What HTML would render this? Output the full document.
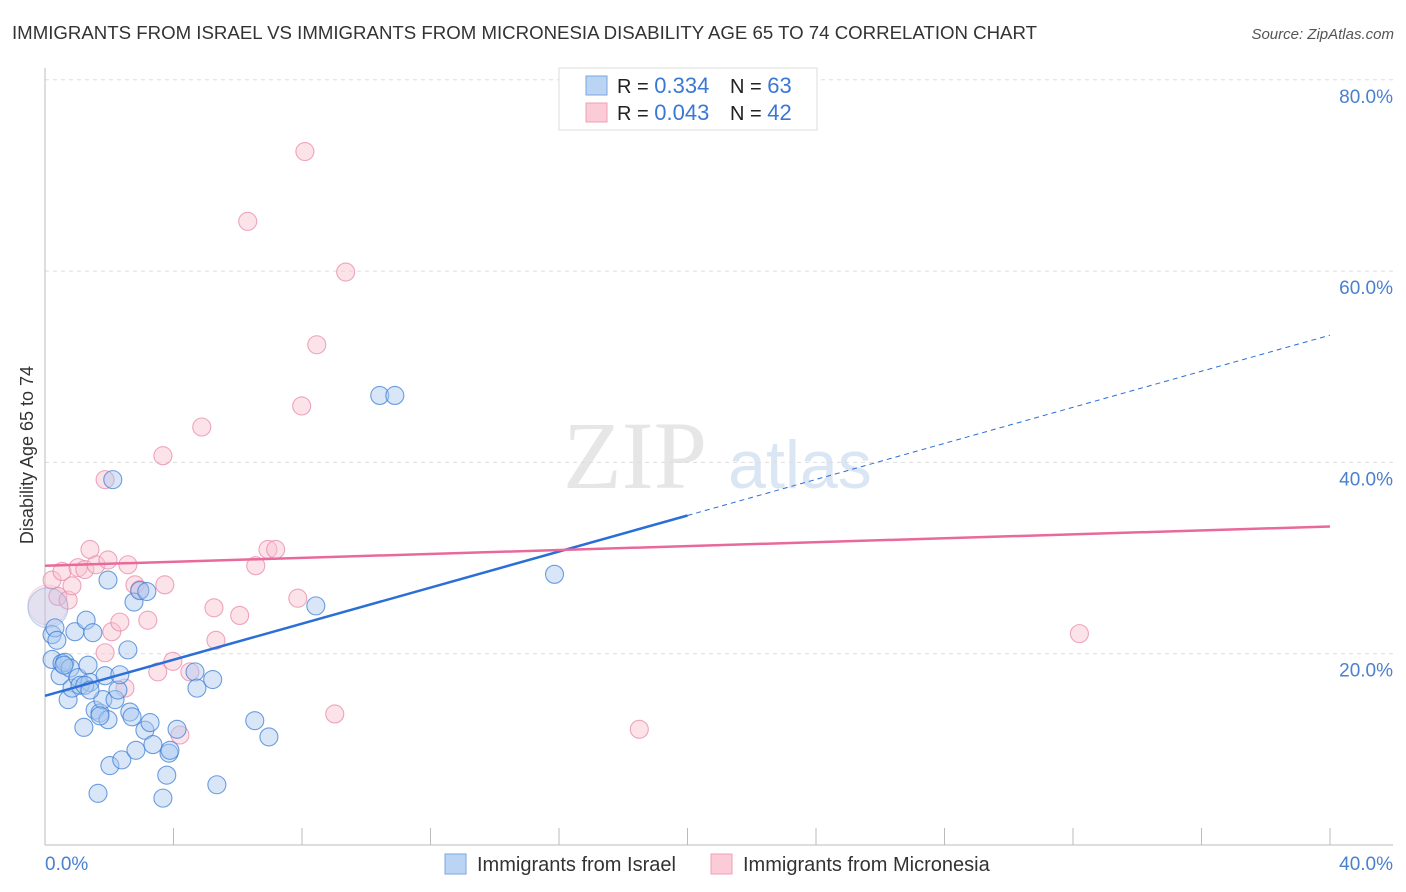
<!DOCTYPE html>
<html><head><meta charset="utf-8"><style>
body{margin:0;background:#fff;font-family:"Liberation Sans",sans-serif;}
svg{display:block}
</style></head><body>
<svg id="chart" width="1406" height="892" xmlns="http://www.w3.org/2000/svg">
<text x="12" y="39" font-size="18" fill="#333" textLength="1025" lengthAdjust="spacingAndGlyphs">IMMIGRANTS FROM ISRAEL VS IMMIGRANTS FROM MICRONESIA DISABILITY AGE 65 TO 74 CORRELATION CHART</text>
<text x="1394" y="39" font-size="15" fill="#555" font-style="italic" text-anchor="end">Source: ZipAtlas.com</text>
<text x="635" y="488" font-size="96" fill="#e6e6e6" font-family="Liberation Serif,serif" text-anchor="middle">ZIP</text>
<text x="800" y="488" font-size="68" fill="#dbe6f4" text-anchor="middle">atlas</text>
<text transform="translate(33,455) rotate(-90)" font-size="18" fill="#333" text-anchor="middle">Disability Age 65 to 74</text>
<g id="grid"></g><g id="marks"></g>
<g>
<rect x="559" y="68" width="258" height="62" fill="#fff" stroke="#ddd"/>
<rect x="586" y="76" width="21" height="19" fill="#bcd4f4" stroke="#7aa6e0"/>
<rect x="586" y="103" width="21" height="19" fill="#fbcbd8" stroke="#eea0b6"/>
<text x="617" y="93" font-size="20" fill="#222">R = <tspan fill="#3a78d4" font-size="22">0.334</tspan></text>
<text x="730" y="93" font-size="20" fill="#222">N = <tspan fill="#3a78d4" font-size="22">63</tspan></text>
<text x="617" y="120" font-size="20" fill="#222">R = <tspan fill="#3a78d4" font-size="22">0.043</tspan></text>
<text x="730" y="120" font-size="20" fill="#222">N = <tspan fill="#3a78d4" font-size="22">42</tspan></text>
</g>
<g>
<rect x="445" y="854" width="21" height="20" fill="#bcd4f4" stroke="#7aa6e0"/>
<text x="477" y="871" font-size="20" fill="#333">Immigrants from Israel</text>
<rect x="711" y="854" width="21" height="20" fill="#fbcbd8" stroke="#eea0b6"/>
<text x="743" y="871" font-size="20" fill="#333">Immigrants from Micronesia</text>
</g>
<text x="45" y="870" font-size="19" fill="#4a80d0">0.0%</text>
<text x="1393" y="870" font-size="19" fill="#4a80d0" text-anchor="end">40.0%</text>
</svg>
<script>
const yTicks=[20,40,60,80];
const xTickVals=[0,4,8,12,16,20,24,28,32,36,40];
const israelX=[0.09,0.22,0.31,0.22,0.47,0.53,0.62,0.78,0.72,0.84,0.93,1.03,1.09,1.21,1.28,1.34,1.40,1.49,1.56,1.65,1.71,1.80,1.87,1.96,2.02,2.11,2.18,2.27,2.33,2.39,2.58,2.64,2.71,2.77,2.83,2.95,3.11,3.17,3.27,3.36,3.67,3.79,3.86,4.11,4.67,4.73,5.22,5.35,6.53,6.97,8.43,10.42,10.89,15.86,1.96,1.24,1.71,1.40,0.37,0.59,3.89];
const israelY=[24.8,22.0,22.7,19.4,17.7,19.0,19.1,18.5,15.2,16.4,22.3,17.5,16.7,12.3,23.5,18.8,17.0,22.2,14.1,5.4,13.8,15.2,17.7,27.7,8.3,38.2,15.2,16.2,17.8,8.9,20.4,13.9,13.4,25.4,9.9,26.6,12.0,26.5,12.8,10.5,4.9,7.3,9.6,12.1,18.1,16.4,17.3,6.3,13.0,11.3,25.0,47.0,47.0,28.3,13.1,16.7,13.5,16.2,21.4,18.8,9.9];
const micX=[0.09,0.22,0.40,0.53,0.72,0.84,1.03,1.24,1.40,1.59,1.87,1.96,2.08,2.33,2.49,2.58,2.80,2.95,3.20,3.51,3.73,3.67,3.98,4.20,4.51,4.88,5.26,5.32,6.06,6.31,6.56,6.94,7.18,7.87,7.99,8.09,8.46,9.02,9.36,18.5,32.2,1.87];
const micY=[25.1,27.7,26.0,28.6,25.6,27.1,29.0,28.8,30.9,29.3,20.1,29.8,22.3,23.3,16.4,29.3,27.2,26.7,23.5,18.1,27.2,40.7,19.2,11.5,18.1,43.7,24.8,21.4,24.0,65.2,29.2,30.9,30.9,25.8,45.9,72.5,52.3,13.7,59.9,12.1,22.1,38.2];
const israelTrend=[15.6,0.9425];
const micTrend=[29.2,0.1025];
const sx=v=>45+v/40*1285;
const sy=v=>845-v/20*191.3;
const NS='http://www.w3.org/2000/svg';
function mk(tag,attrs,parent){const e=document.createElementNS(NS,tag);for(const k in attrs)e.setAttribute(k,attrs[k]);parent.appendChild(e);return e;}
const grid=document.getElementById('grid'),marks=document.getElementById('marks');
yTicks.forEach(t=>{
 const l=mk('line',{x1:45,x2:1393,y1:sy(t),y2:sy(t),stroke:'#ddd','stroke-dasharray':'4,4'},grid);
 
 
 const tx=mk('text',{x:1393,y:sy(t)+23,'font-size':19,fill:'#4a80d0','text-anchor':'end'},grid);
 tx.textContent=t.toFixed(1)+'%';
 
 
});
const ax=mk('line',{x1:45,x2:45,y1:68,y2:845,stroke:'#bbb'},grid);


const bx=mk('line',{x1:45,x2:1393,y1:845,y2:845,stroke:'#bbb'},grid);


xTickVals.forEach(t=>{
 const l=mk('line',{x1:sx(t),x2:sx(t),y1:828,y2:845,stroke:'#bbb'},grid);
 
 
});
function dots(xs,ys,fill,stroke,name){
 xs.forEach((x,i)=>{
  const r=i===0?20:9;
  const c=mk('circle',{cx:sx(x),cy:sy(ys[i]),r:r,fill:fill,'fill-opacity':i===0?0.3:0.45,stroke:stroke,'stroke-opacity':i===0?0.3:0.75,'stroke-width':1.1},marks);
  
  
 });
}
dots(micX,micY,'#f9c0d0','#e88aa8','micronesia-point');
dots(israelX,israelY,'#a9c8f0','#3f7fd6','israel-point');
const b0=israelTrend[0],b1=israelTrend[1];
const l1=mk('line',{x1:sx(0),y1:sy(b0),x2:sx(20),y2:sy(b0+b1*20),stroke:'#2a6fd6','stroke-width':2.5},marks);


const l2=mk('line',{x1:sx(20),y1:sy(b0+b1*20),x2:sx(40),y2:sy(b0+b1*40),stroke:'#2a6fd6','stroke-width':1,'stroke-dasharray':'5,4'},marks);


const l3=mk('line',{x1:sx(0),y1:sy(micTrend[0]),x2:sx(40),y2:sy(micTrend[0]+micTrend[1]*40),stroke:'#e8699a','stroke-width':2.5},marks);


</script>
</body></html>
